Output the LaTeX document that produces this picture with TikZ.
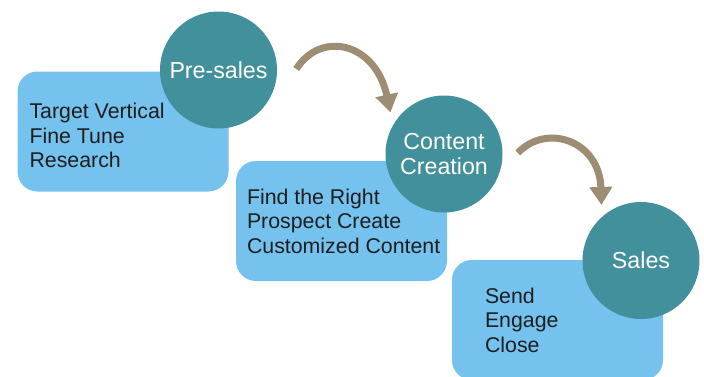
\documentclass[tikz,border=0pt]{standalone}
\usepackage{fontspec}
\setmainfont{Liberation Sans}
\usepackage{xcolor}
\usetikzlibrary{arrows.meta,calc}
\usetikzlibrary{positioning}

\definecolor{boxblue}{RGB}{117,194,238}
\definecolor{stageteal}{RGB}{66,144,155}
\definecolor{arrowtan}{RGB}{156,141,115}
\definecolor{textdark}{RGB}{30,30,30}

\tikzset{
  stepbox/.style={fill=boxblue, rounded corners=15pt, minimum width=158.25pt, minimum height=90pt, inner sep=0pt},
  boxtext/.style={inner sep=0pt, align=left, text=textdark, font=\fontsize{16}{18.4}\selectfont},
  stage/.style={circle, fill=stageteal, minimum size=87.75pt, inner sep=0pt, align=center,
    text=white, font=\fontsize{17.4}{18.8}\selectfont},
  flow/.style={draw=arrowtan, line width=5.25pt, -{Triangle[length=13.5pt,width=16.5pt]}}
}

\begin{document}
\begin{tikzpicture}[x=0.75pt,y=0.75pt,yscale=-1,xscale=1]
\useasboundingbox (0,0) rectangle (704,376);

% Box Nodes
\node [stepbox] (research) at (123,131.5) {};
\node [stepbox] (content) at (341.5,221) {};
\node [stepbox] (close) at (557.5,320) {};

% Text Nodes
\node [boxtext, right=9pt of research.west, yshift=-3pt] (researchtxt) {Target Vertical\\Fine Tune\\Research};
\node [boxtext, right=8.25pt of content.west] (contenttxt) {Find the Right\\Prospect Create\\Customized Content};
\node [boxtext, right=24.75pt of close.west] (closetxt) {Send\\Engage\\Close};

% Circle Nodes
\node [stage] (presales) at (218.5,70) {Pre-sales};
\node [stage] (creation) at (444,154) {Content\\Creation};
\node [stage] (sales) at (641,260.5) {Sales};

%Curved Arrows
\draw [flow] ($(presales.east)+(19,-1)$) .. controls +(25,-39) and +(-15,-70) .. ($(creation.north west)+(-12,0)$);
\draw [flow] ($(creation.east)+(15,-1)$) .. controls +(28,-30) and +(-2,-65) .. ($(sales.north west)+(2,-14)$);

\end{tikzpicture}
\end{document}
